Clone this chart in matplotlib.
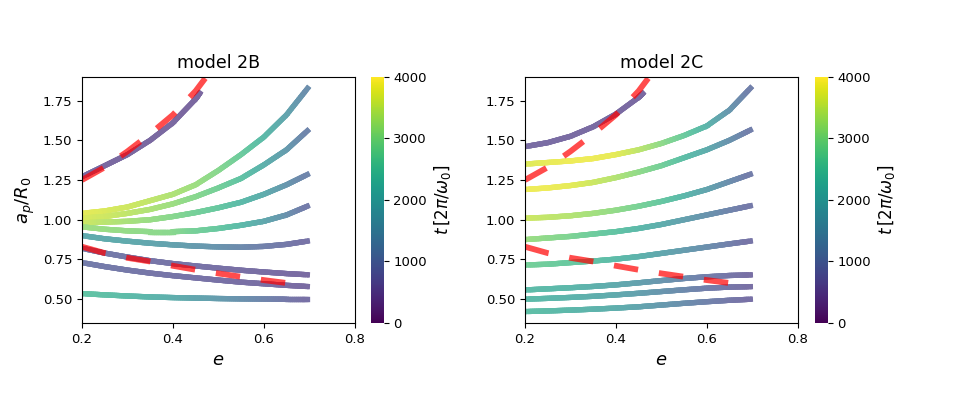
import numpy as np
import matplotlib
matplotlib.use("Agg")
import matplotlib.pyplot as plt
from matplotlib.collections import LineCollection
from matplotlib.colors import Normalize, to_rgba

# ---------------- data ----------------
e_grid = [0.2, 0.25, 0.3, 0.35, 0.4, 0.45, 0.5, 0.55, 0.6, 0.65, 0.7]
e_short = [0.2, 0.25, 0.3, 0.35, 0.4, 0.45, 0.46]

# model 2B: (e, a_p/R0, t)
b_e = [e_short] + [e_grid] * 8
b_a = [
    [1.27, 1.34, 1.41, 1.50, 1.61, 1.76, 1.80],
    [1.04, 1.055, 1.08, 1.12, 1.16, 1.22, 1.31, 1.41, 1.52, 1.66, 1.84],
    [1.01, 1.02, 1.04, 1.065, 1.10, 1.145, 1.20, 1.26, 1.345, 1.44, 1.57],
    [0.98, 0.985, 0.99, 1.0, 1.02, 1.045, 1.075, 1.11, 1.16, 1.22, 1.29],
    [0.955, 0.94, 0.93, 0.925, 0.925, 0.93, 0.945, 0.965, 0.99, 1.03, 1.09],
    [0.90, 0.88, 0.865, 0.852, 0.842, 0.834, 0.829, 0.827, 0.832, 0.845, 0.867],
    [0.82, 0.79, 0.765, 0.742, 0.724, 0.709, 0.695, 0.682, 0.671, 0.661, 0.653],
    [0.73, 0.705, 0.683, 0.664, 0.648, 0.634, 0.62, 0.607, 0.597, 0.587, 0.579],
    [0.535, 0.527, 0.52, 0.514, 0.51, 0.507, 0.504, 0.502, 0.501, 0.50, 0.50],
]
b_t = [
    [550, 550, 540, 530, 520, 500, 500],
    [3800, 3700, 3600, 3500, 3350, 3200, 3000, 2700, 2300, 1800, 1200],
    [3700, 3600, 3500, 3350, 3200, 3000, 2800, 2500, 2100, 1600, 1000],
    [3600, 3450, 3300, 3150, 3000, 2800, 2600, 2300, 2000, 1500, 1000],
    [3200, 3150, 3100, 3050, 3000, 2800, 2600, 2300, 1900, 1400, 800],
    [1900, 1900, 1900, 1800, 1700, 1550, 1400, 1200, 1000, 850, 700],
    [900, 860, 820, 780, 750, 720, 690, 660, 630, 600, 570],
    [900, 860, 820, 780, 750, 720, 690, 660, 630, 600, 570],
    [2500, 2400, 2300, 2150, 2000, 1800, 1600, 1350, 1100, 850, 650],
]

# model 2C
c_e = [e_short] + [e_grid] * 8
c_a = [
    [1.46, 1.485, 1.525, 1.585, 1.665, 1.77, 1.797],
    [1.35, 1.36, 1.37, 1.385, 1.41, 1.44, 1.48, 1.53, 1.59, 1.69, 1.84],
    [1.19, 1.20, 1.215, 1.235, 1.265, 1.30, 1.34, 1.39, 1.44, 1.50, 1.57],
    [1.01, 1.015, 1.025, 1.04, 1.06, 1.085, 1.115, 1.15, 1.19, 1.24, 1.29],
    [0.875, 0.885, 0.895, 0.91, 0.925, 0.945, 0.97, 1.0, 1.03, 1.06, 1.09],
    [0.715, 0.72, 0.73, 0.74, 0.752, 0.768, 0.788, 0.808, 0.828, 0.848, 0.867],
    [0.558, 0.565, 0.572, 0.58, 0.59, 0.603, 0.617, 0.63, 0.641, 0.649, 0.653],
    [0.50, 0.505, 0.511, 0.518, 0.527, 0.537, 0.548, 0.559, 0.569, 0.576, 0.579],
    [0.422, 0.426, 0.431, 0.437, 0.444, 0.452, 0.463, 0.474, 0.484, 0.493, 0.50],
]
c_t = [
    [600, 600, 590, 580, 560, 550, 550],
    [3700, 3800, 3850, 3850, 3800, 3500, 3100, 2700, 2200, 1500, 900],
    [3850, 3850, 3800, 3600, 3400, 3100, 2800, 2400, 2000, 1400, 900],
    [3600, 3500, 3400, 3250, 3100, 2850, 2600, 2250, 1800, 1300, 850],
    [3200, 3050, 2900, 2700, 2500, 2250, 2000, 1700, 1400, 1100, 800],
    [2800, 2700, 2600, 2450, 2300, 2100, 1850, 1600, 1300, 1000, 700],
    [2300, 2250, 2200, 2050, 1900, 1700, 1450, 1200, 950, 800, 650],
    [2300, 2200, 2100, 2000, 1900, 1700, 1450, 1200, 950, 800, 650],
    [2400, 2300, 2200, 2100, 2000, 1800, 1550, 1300, 1050, 850, 650],
]

# red dashed reference curves (same in both panels)
red_up_e = [0.2, 0.25, 0.3, 0.35, 0.4, 0.45, 0.5]
red_up_a = [1.25, 1.33, 1.43, 1.54, 1.66, 1.81, 2.0]
red_lo_e = [0.2, 0.25, 0.3, 0.35, 0.4, 0.45, 0.5, 0.55, 0.6, 0.66]
red_lo_a = [0.83, 0.79, 0.76, 0.737, 0.71, 0.685, 0.662, 0.641, 0.62, 0.598]

titles = ["model 2B", "model 2C"]
cb_ticks = [0, 1000, 2000, 3000, 4000]
x_ticks = [0.2, 0.4, 0.6, 0.8]
y_ticks = [0.5, 0.75, 1.0, 1.25, 1.5, 1.75]

# ---------------- plot ----------------
W, H = 975, 394
fig = plt.figure(figsize=(W / 100, H / 100), dpi=100)
cmap = plt.get_cmap("viridis")
norm = Normalize(0, 4000)
alpha = 0.72
NSUB = 12  # colour-gradient subdivision along each straight piece
LW = 3.8


def blend(c):
    r, g, b, _ = to_rgba(c)
    return (1 - alpha + alpha * r, 1 - alpha + alpha * g, 1 - alpha + alpha * b, 1.0)


def px(x0, y0, x1, y1):
    return [x0 / W, 1 - y1 / H, (x1 - x0) / W, (y1 - y0) / H]


def gradient_segments(e, a, t):
    segs, vals = [], []
    for i in range(len(e) - 1):
        f = np.linspace(0, 1, NSUB + 1)
        xs = e[i] + (e[i + 1] - e[i]) * f
        ys = a[i] + (a[i + 1] - a[i]) * f
        ts = t[i] + (t[i + 1] - t[i]) * f
        for j in range(NSUB):
            segs.append([(xs[j], ys[j]), (xs[j + 1], ys[j + 1])])
            vals.append(0.5 * (ts[j] + ts[j + 1]))
    return segs, vals


panels = [
    (px(82, 76.7, 354.7, 323), px(371, 76.7, 383.5, 323), b_e, b_a, b_t),
    (px(525, 76.7, 797.7, 323), px(815, 76.7, 827.5, 323), c_e, c_a, c_t),
]

for k, (rect, crect, es, aa, tt) in enumerate(panels):
    ax = fig.add_axes(rect)
    cax = fig.add_axes(crect)
    for e, a, t in zip(es, aa, tt):
        segs, vals = gradient_segments(e, a, t)
        cols = [blend(cmap(norm(v))) for v in vals]
        # end pieces with butt caps, interior pieces overlap (projecting) to hide seams
        ax.add_collection(LineCollection([segs[0], segs[-1]], colors=[cols[0], cols[-1]],
                                         linewidths=LW, capstyle="butt"))
        ax.add_collection(LineCollection(segs[1:-1], colors=cols[1:-1],
                                         linewidths=LW, capstyle="projecting"))
    for re_, ra_ in ((red_up_e, red_up_a), (red_lo_e, red_lo_a)):
        ax.plot(re_, ra_, color="red", alpha=0.7, lw=4.2,
                dashes=(4.2, 3.6), dash_capstyle="butt")
    ax.set_xlim(0.2, 0.8)
    ax.set_ylim(0.35, 1.9)
    ax.set_xticks(x_ticks)
    ax.set_yticks(y_ticks)
    ax.tick_params(labelsize=9.5)
    ax.set_xlabel("$e$", fontsize=13)
    if k == 0:
        ax.set_ylabel("$a_p/R_0$", fontsize=13)
    ax.set_title(titles[k], fontsize=12.5)
    sm = plt.cm.ScalarMappable(norm=norm, cmap=cmap)
    cb = fig.colorbar(sm, cax=cax, ticks=cb_ticks)
    cb.ax.tick_params(labelsize=9.5)
    cb.set_label(r"$t\,[2\pi/\omega_0]$", fontsize=12)
    cb.outline.set_visible(False)

fig.savefig("out.png", dpi=100)
